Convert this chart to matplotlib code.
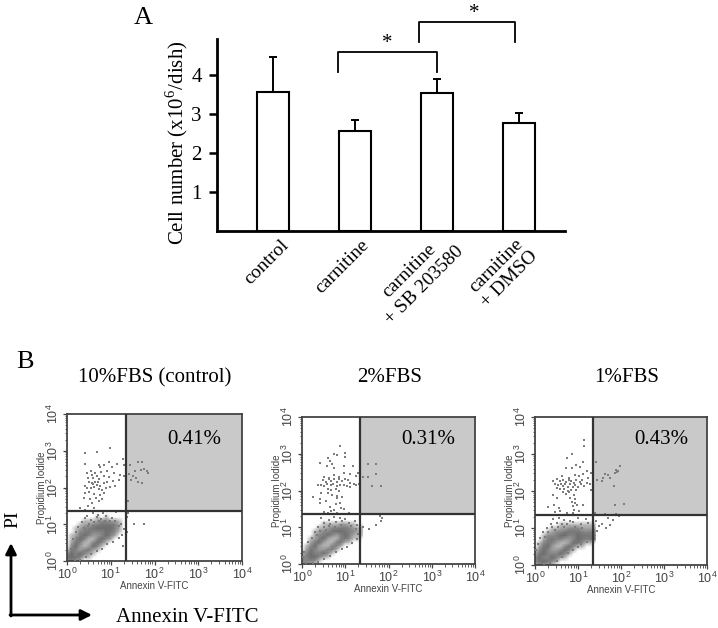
# libraries
import numpy as np
import matplotlib
matplotlib.use('Agg')
import matplotlib.pyplot as plt
from matplotlib.colors import LinearSegmentedColormap
from matplotlib.ticker import LogLocator, NullFormatter, FixedLocator

plt.rcParams['font.family'] = ['Liberation Serif', 'DejaVu Serif']
plt.rcParams['mathtext.fontset'] = 'custom'
plt.rcParams['mathtext.rm'] = 'Liberation Sans'
plt.rcParams['mathtext.default'] = 'rm'

W, H = 718, 628

# panel A
groups = ['control', 'carnitine', 'carnitine\n+ SB 203580', 'carnitine\n+ DMSO']
means = [3.57, 2.58, 3.55, 2.77]
err_up = [0.90, 0.27, 0.35, 0.26]
y_ticks = [1, 2, 3, 4]

# panel B titles and upper right percentages
titles = ['10%FBS (control)', '2%FBS', '1%FBS']
percents = ['0.41%', '0.31%', '0.43%']
gate_x = [1.35, 1.34, 1.35]
gate_y = [1.36, 1.36, 1.35]

# sparse events, in decades (log10 x, log10 y)
sparse_1 = [
    (0.98, 3.07), (0.68, 2.96), (0.41, 2.95), (0.85, 2.60), (0.95, 2.70), (0.42, 2.65), (0.72, 2.60),
    (0.75, 2.55), (0.55, 2.45), (0.65, 2.40), (0.78, 2.42), (0.92, 2.45), (1.02, 2.55), (1.15, 2.65),
    (1.28, 2.78), (1.30, 2.60), (0.45, 2.40), (0.58, 2.35), (0.48, 2.25), (0.60, 2.25), (0.68, 2.30),
    (0.72, 2.22), (0.85, 2.30), (0.95, 2.28), (1.08, 2.40), (1.20, 2.35), (1.30, 2.30), (0.50, 2.15),
    (0.56, 2.12), (0.60, 2.10), (0.64, 2.15), (0.68, 2.08), (0.70, 2.16), (0.75, 2.05), (0.84, 2.12),
    (0.92, 2.15), (1.05, 2.18), (1.18, 2.20), (0.40, 2.05), (0.46, 2.00), (0.55, 1.98), (0.62, 2.02),
    (0.72, 1.95), (0.80, 1.92), (0.88, 1.98), (0.98, 2.02), (1.10, 2.05), (0.42, 1.85), (0.50, 1.88),
    (0.62, 1.82), (0.75, 1.80), (0.85, 1.85), (0.38, 1.72), (0.52, 1.70), (0.66, 1.72), (0.72, 1.62),
    (0.80, 1.68), (0.58, 1.58), (0.30, 1.45), (0.48, 1.50), (0.62, 1.44), (0.40, 1.40), (0.60, 1.30),
    (0.70, 1.25), (0.45, 1.22), (0.82, 1.30), (1.12, 1.32),
    (1.45, 2.62), (1.62, 2.70), (1.72, 2.70), (1.68, 2.48), (1.55, 2.46), (1.75, 2.50), (1.82, 2.44),
    (1.86, 2.40), (1.50, 2.30), (1.42, 2.36), (1.58, 2.25), (1.46, 2.20), (1.62, 2.14), (1.72, 2.12),
    (1.40, 1.62), (1.36, 1.20), (1.52, 1.02), (1.40, 1.30), (1.75, 1.00), (1.36, 0.80),
    # around the dense cluster
    (0.42, 1.18), (0.55, 1.12), (0.68, 1.20), (0.78, 1.15), (0.90, 1.22), (1.02, 1.18), (0.35, 1.05),
    (0.50, 1.02), (0.62, 1.06), (0.74, 1.08), (0.86, 1.10), (0.98, 1.08), (1.10, 1.10), (1.24, 1.02),
    (0.25, 0.92), (0.38, 0.90), (0.48, 0.94), (0.60, 0.96), (0.72, 0.98), (1.18, 0.96), (1.30, 0.88),
    (0.20, 0.78), (0.30, 0.74), (0.42, 0.82), (1.26, 0.72), (0.14, 0.60), (0.22, 0.62), (1.18, 0.62),
    (1.05, 0.52), (0.92, 0.46), (0.80, 0.34), (0.68, 0.26), (0.55, 0.20), (0.44, 0.10), (0.08, 0.32),
    (0.04, 0.18), (0.30, 0.04), (0.18, 0.02), (1.28, 0.40),
]
sparse_2 = [
    (0.88, 3.22), (0.75, 2.98), (0.82, 2.97), (1.00, 3.02), (1.00, 2.92), (0.42, 2.75), (0.60, 2.88),
    (0.65, 2.80), (0.70, 2.72), (0.98, 2.68), (0.75, 2.62), (0.58, 2.68), (1.18, 2.68), (0.52, 2.38),
    (0.62, 2.34), (0.75, 2.42), (0.85, 2.36), (0.98, 2.48), (1.12, 2.45), (1.30, 2.48), (1.26, 2.40),
    (0.48, 2.28), (0.55, 2.22), (0.62, 2.30), (0.68, 2.25), (0.74, 2.30), (0.80, 2.22), (0.86, 2.30),
    (0.92, 2.26), (1.00, 2.32), (1.06, 2.28), (1.12, 2.20), (0.38, 2.15), (0.45, 2.16), (0.52, 2.12),
    (0.58, 2.18), (0.66, 2.15), (0.72, 2.18), (0.80, 2.12), (0.88, 2.14), (0.96, 2.16), (1.04, 2.12),
    (1.12, 2.10), (1.20, 2.18), (1.26, 2.16), (1.32, 2.18), (0.60, 2.05), (0.68, 2.02), (0.78, 2.05),
    (0.85, 1.98), (0.60, 1.92), (0.70, 1.88), (0.45, 1.92), (0.80, 1.84), (0.55, 1.72), (0.25, 1.82),
    (0.42, 1.78), (0.82, 1.80), (0.92, 1.82), (0.42, 1.66), (0.78, 1.62), (0.88, 1.65), (0.90, 1.52),
    (0.66, 1.45), (0.74, 1.48), (0.80, 1.40), (0.50, 1.42), (0.96, 1.50), (0.65, 1.55), (1.08, 1.40),
    (0.60, 1.38),
    (1.52, 2.72), (1.72, 2.72), (1.42, 2.38), (1.52, 2.38), (1.72, 2.45), (1.62, 2.12), (1.82, 2.12),
    (1.42, 1.02), (1.55, 0.95), (1.70, 1.05), (1.82, 1.18), (1.86, 1.24), (1.80, 1.30),
    # around the dense cluster
    (0.45, 1.25), (0.62, 1.20), (0.75, 1.28), (0.88, 1.24), (1.00, 1.22), (0.50, 1.12), (0.64, 1.10),
    (0.78, 1.14), (0.92, 1.16), (1.08, 1.12), (1.22, 1.18), (0.36, 1.02), (0.50, 1.00), (0.62, 1.04),
    (0.76, 1.02), (0.90, 1.06), (1.14, 1.04), (1.28, 1.06), (0.30, 0.86), (0.42, 0.90), (0.56, 0.92),
    (1.24, 0.94), (0.22, 0.72), (0.34, 0.78), (1.30, 0.82), (0.14, 0.60), (1.28, 0.68), (1.16, 0.58),
    (1.04, 0.46), (0.92, 0.42), (0.78, 0.32), (0.64, 0.22), (0.50, 0.14), (0.38, 0.06), (0.04, 0.34),
    (0.02, 0.18), (0.10, 0.04), (0.26, 0.02),
]
sparse_3 = [
    (1.15, 3.38), (1.13, 3.22), (0.85, 3.00), (0.75, 2.88), (1.35, 2.85), (0.72, 2.62), (0.85, 2.62),
    (0.95, 2.70), (1.05, 2.66), (1.12, 2.78), (1.20, 2.55), (1.30, 2.50), (0.62, 2.40), (0.80, 2.35),
    (0.92, 2.42), (1.02, 2.40), (1.12, 2.45), (1.24, 2.35), (0.42, 2.28), (0.50, 2.32), (0.58, 2.26),
    (0.66, 2.30), (0.72, 2.24), (0.78, 2.30), (0.84, 2.26), (0.90, 2.22), (0.96, 2.30), (1.04, 2.25),
    (1.10, 2.30), (1.22, 2.22), (0.46, 2.20), (0.54, 2.16), (0.60, 2.20), (0.64, 2.14), (0.70, 2.18),
    (0.76, 2.12), (0.82, 2.18), (0.88, 2.12), (0.94, 2.16), (1.00, 2.10), (1.06, 2.18), (1.14, 2.14),
    (1.28, 2.20), (0.50, 2.08), (0.58, 2.05), (0.68, 2.06), (0.76, 2.00), (0.84, 2.04), (0.96, 2.02),
    (1.30, 2.02), (0.66, 1.96), (0.72, 1.92), (0.78, 1.96), (0.90, 1.88), (0.42, 1.90), (0.52, 1.82),
    (0.82, 1.80), (0.92, 1.78), (0.86, 1.70), (0.94, 1.68), (0.88, 1.60), (0.98, 1.62), (1.12, 1.62),
    (0.44, 1.62), (0.30, 1.58), (0.55, 1.55), (0.90, 1.50), (1.02, 1.46), (0.58, 1.46), (0.46, 1.42),
    (0.75, 1.40), (0.88, 1.40),
    (1.42, 2.78), (1.45, 2.30), (1.55, 2.28), (1.62, 2.46), (1.70, 2.42), (1.75, 2.36), (1.92, 2.55),
    (1.88, 2.56), (1.86, 2.48), (1.98, 2.68), (1.90, 2.52), (1.84, 2.14), (1.58, 2.35), (2.08, 1.66),
    (1.85, 1.62), (1.40, 1.40), (1.62, 1.38), (1.88, 1.38),
    (1.42, 1.20), (1.48, 1.05), (1.56, 1.12), (1.65, 1.00), (1.75, 1.08), (1.82, 1.22), (1.70, 1.28),
    (1.95, 1.32), (1.38, 0.95), (1.45, 0.92), (1.36, 0.85),
    # around the dense cluster
    (0.42, 1.24), (0.55, 1.28), (0.68, 1.22), (0.82, 1.18), (1.00, 1.26), (1.18, 1.24), (0.38, 1.12),
    (0.50, 1.14), (0.62, 1.10), (0.74, 1.12), (0.88, 1.16), (1.06, 1.12), (1.24, 1.14), (0.28, 1.00),
    (0.40, 1.02), (0.54, 1.04), (0.68, 1.02), (0.92, 1.04), (1.10, 1.00), (0.18, 0.88), (0.30, 0.90),
    (0.46, 0.94), (0.12, 0.72), (0.24, 0.76), (0.08, 0.58), (1.20, 0.62), (1.08, 0.56), (1.00, 0.48),
    (0.88, 0.40), (0.76, 0.32), (0.62, 0.22), (0.50, 0.12), (0.36, 0.06), (0.02, 0.40), (0.20, 0.02),
]
sparse_events = [sparse_1, sparse_2, sparse_3]

# dense cluster as shade levels on a 0.1 decade grid, rows go up from log10 y = 0
cluster_1 = [
    [3, 4, 3, 1, 0, 0, 0, 0, 0, 0, 0, 0, 0, 0, 0],
    [5, 6, 5, 4, 1, 1, 0, 0, 0, 0, 0, 0, 0, 0, 0],
    [3, 6, 7, 6, 4, 2, 1, 0, 0, 0, 0, 0, 0, 0, 0],
    [1, 5, 7, 8, 7, 5, 2, 1, 0, 0, 0, 0, 0, 0, 0],
    [0, 3, 6, 8, 9, 8, 6, 3, 1, 0, 0, 0, 0, 0, 0],
    [0, 2, 5, 7, 9, 9, 7, 6, 3, 1, 0, 0, 0, 0, 0],
    [0, 1, 3, 6, 7, 9, 9, 7, 6, 3, 2, 0, 0, 0, 0],
    [0, 1, 2, 4, 6, 7, 8, 8, 7, 6, 4, 2, 0, 0, 0],
    [0, 0, 1, 3, 4, 5, 7, 7, 7, 6, 5, 3, 1, 0, 0],
    [0, 0, 1, 2, 3, 4, 5, 6, 6, 6, 6, 4, 2, 0, 0],
    [0, 0, 0, 1, 2, 2, 3, 4, 5, 5, 5, 4, 2, 0, 0],
    [0, 0, 0, 0, 1, 1, 1, 2, 3, 3, 2, 2, 1, 0, 0],
    [0, 0, 0, 0, 0, 0, 0, 1, 0, 1, 0, 0, 0, 0, 0],
    [0, 0, 0, 0, 0, 0, 0, 0, 0, 0, 0, 0, 0, 0, 0],
]
cluster_2 = [
    [2, 3, 2, 1, 0, 0, 0, 0, 0, 0, 0, 0, 0, 0, 0],
    [4, 3, 4, 3, 1, 0, 0, 0, 0, 0, 0, 0, 0, 0, 0],
    [3, 4, 6, 6, 4, 2, 1, 0, 0, 0, 0, 0, 0, 0, 0],
    [1, 3, 6, 7, 7, 6, 3, 1, 0, 0, 0, 0, 0, 0, 0],
    [0, 2, 5, 7, 8, 8, 7, 4, 2, 0, 0, 0, 0, 0, 0],
    [0, 1, 3, 6, 8, 9, 9, 7, 4, 2, 0, 0, 0, 0, 0],
    [0, 0, 2, 4, 6, 8, 9, 9, 7, 5, 2, 1, 0, 0, 0],
    [0, 0, 1, 2, 4, 6, 8, 9, 9, 7, 5, 3, 1, 1, 0],
    [0, 0, 0, 2, 3, 4, 6, 7, 8, 7, 6, 4, 2, 1, 1],
    [0, 0, 0, 1, 2, 3, 3, 5, 6, 6, 5, 4, 3, 2, 1],
    [0, 0, 0, 0, 1, 1, 2, 3, 3, 4, 4, 3, 2, 1, 1],
    [0, 0, 0, 0, 0, 1, 1, 1, 1, 2, 2, 1, 1, 0, 0],
    [0, 0, 0, 0, 0, 0, 0, 0, 0, 0, 0, 0, 0, 0, 0],
    [0, 0, 0, 0, 0, 0, 0, 0, 0, 0, 0, 0, 0, 0, 0],
]
cluster_3 = [
    [2, 3, 3, 2, 1, 0, 0, 0, 0, 0, 0, 0, 0, 0, 0],
    [3, 5, 6, 5, 3, 2, 0, 0, 0, 0, 0, 0, 0, 0, 0],
    [3, 6, 7, 7, 6, 4, 2, 1, 0, 0, 0, 0, 0, 0, 0],
    [2, 5, 6, 7, 7, 7, 6, 3, 1, 0, 0, 0, 0, 0, 0],
    [1, 3, 6, 7, 8, 8, 7, 6, 3, 1, 0, 0, 0, 0, 0],
    [0, 2, 5, 6, 8, 9, 9, 7, 6, 3, 1, 1, 0, 0, 0],
    [0, 1, 3, 5, 7, 8, 9, 9, 8, 6, 5, 3, 1, 1, 0],
    [0, 0, 2, 4, 5, 7, 7, 8, 8, 7, 6, 5, 4, 5, 6],
    [0, 0, 1, 3, 3, 4, 6, 6, 7, 7, 6, 5, 5, 5, 5],
    [0, 0, 0, 1, 2, 3, 3, 5, 5, 5, 5, 4, 3, 4, 3],
    [0, 0, 0, 0, 1, 1, 2, 2, 3, 3, 3, 2, 2, 2, 2],
    [0, 0, 0, 0, 0, 0, 1, 1, 1, 1, 1, 1, 1, 1, 1],
    [0, 0, 0, 0, 0, 0, 0, 0, 0, 0, 0, 0, 0, 0, 0],
    [0, 0, 0, 0, 0, 0, 0, 0, 0, 0, 0, 0, 0, 0, 0],
]
clusters = [cluster_1, cluster_2, cluster_3]


def px_axes(left, top, right, bottom):
    return fig.add_axes([left / W, 1 - bottom / H, (right - left) / W, (bottom - top) / H])


fig = plt.figure(figsize=(W / 100, H / 100), dpi=100)

# overlay in pixel coordinates, for the free text and the arrows
over = fig.add_axes([0, 0, 1, 1], zorder=5)
over.set_xlim(0, W)
over.set_ylim(H, 0)
over.axis('off')

# panel A
ax = px_axes(217, 39, 565, 231)
x_pos = np.arange(len(groups))
ax.bar(x_pos, means, width=0.39, color='white', edgecolor='black', linewidth=1.5, zorder=3)
ax.errorbar(x_pos, means, yerr=[np.zeros(len(means)), err_up], fmt='none', ecolor='black',
            elinewidth=1.4, capsize=3, capthick=1.4, zorder=2)
ax.set_xlim(-0.683, 3.56)
ax.set_ylim(0, 4.93)
ax.set_xticks([])
ax.set_yticks(y_ticks)
ax.tick_params(axis='y', length=6, width=1.8, labelsize=15, pad=5)
ax.spines['top'].set_visible(False)
ax.spines['right'].set_visible(False)
ax.spines['left'].set_linewidth(2)
ax.spines['bottom'].set_linewidth(2)
ax.patch.set_alpha(0)

# significance brackets
ax.plot([0.79, 0.79, 2.0, 2.0], [4.09, 4.6, 4.6, 4.09], color='black', lw=1.3, clip_on=False)
ax.plot([1.78, 1.78, 2.95, 2.95], [4.86, 5.37, 5.37, 4.86], color='black', lw=1.3, clip_on=False)
over.text(387, 43, '*', fontsize=15, ha='center', va='center')
over.text(474, 14, '*', fontsize=15, ha='center', va='center')

over.text(143, 18, 'A', fontsize=19, ha='center', va='center')
over.text(177, 143, 'Cell number (x10$^{\\mathregular{6}}$/dish)', fontsize=15,
          rotation=90, ha='center', va='center', family='Liberation Serif',
          math_fontfamily='stix')

label_anchor = [(280, 237), (360, 237), (440, 228), (516, 234)]
label_spacing = [1.0, 1.0, 1.25, 1.15]
for name, (lx, ly), sp in zip(groups, label_anchor, label_spacing):
    over.text(lx, ly, name, fontsize=14, rotation=45, ha='right', va='top',
              rotation_mode='anchor', multialignment='center', linespacing=sp)

# panel B
cmap = LinearSegmentedColormap.from_list('dots', [(0, '#ffffff'), (0.11, '#bdbdbd'), (0.33, '#8a8a8a'),
                                                  (0.67, '#6e6e6e'), (0.85, '#919191'), (1, '#b5b5b5')])
boxes = [(67, 414, 242, 561), (302, 417, 475, 564), (535, 417, 707, 565)]
title_x = [155, 390, 627]
percent_pos = [(194, 439), (428, 439), (661, 439)]

for i, box in enumerate(boxes):
    fa = px_axes(*box)
    fa.set_xscale('log')
    fa.set_yscale('log')
    fa.set_xlim(1, 1e4)
    fa.set_ylim(1, 1e4)

    # upper right gate
    fa.fill_between([10 ** gate_x[i], 1e4], 10 ** gate_y[i], 1e4, color='#c9c9c9', lw=0, zorder=1)

    dens = np.array(clusters[i], dtype=float)
    gx = 10 ** (np.arange(dens.shape[1]) * 0.1)
    gy = 10 ** (np.arange(dens.shape[0]) * 0.1)
    fa.pcolormesh(gx, gy, dens, cmap=cmap, vmin=0, vmax=9, shading='gouraud', zorder=2)

    pts = np.array(sparse_events[i])
    fa.scatter(10 ** pts[:, 0], 10 ** pts[:, 1], s=3, marker='s', color='#7c7c7c', linewidths=0, zorder=3)

    fa.axvline(10 ** gate_x[i], color='#333333', lw=1.6, zorder=4)
    fa.axhline(10 ** gate_y[i], color='#333333', lw=1.6, zorder=4)

    for sp in fa.spines.values():
        sp.set_linewidth(1.3)
        sp.set_color('#444444')

    for axis in (fa.xaxis, fa.yaxis):
        axis.set_major_locator(FixedLocator([1, 10, 100, 1000, 10000]))
        axis.set_minor_locator(LogLocator(base=10, subs=np.arange(2, 10), numticks=6))
        axis.set_minor_formatter(NullFormatter())
    fa.set_xticks([1, 10, 100, 1000, 10000])
    fa.set_xticklabels(['$10^{0}$', '$10^{1}$', '$10^{2}$', '$10^{3}$', '$10^{4}$'],
                       family='Liberation Sans', color='#444444')
    fa.set_yticks([1, 10, 100, 1000, 10000])
    fa.set_yticklabels(['$10^{0}$', '$10^{1}$', '$10^{2}$', '$10^{3}$', '$10^{4}$'],
                       family='Liberation Sans', color='#444444', rotation=90, va='center')
    fa.tick_params(which='major', length=3, width=0.9, labelsize=9, pad=1.5, color='#444444')
    fa.tick_params(which='minor', length=1.8, width=0.6, color='#444444')
    fa.set_xlabel('Annexin V-FITC', fontsize=7, family='Liberation Sans', color='#444444', labelpad=-1)
    fa.set_ylabel('Propidium Iodide', fontsize=7, family='Liberation Sans', color='#444444', labelpad=-1)

    over.text(title_x[i], 378, titles[i], fontsize=15, ha='center', va='center')
    over.text(percent_pos[i][0], percent_pos[i][1], percents[i], fontsize=15, ha='center', va='center')

over.text(25, 362, 'B', fontsize=19, ha='center', va='center')
over.text(13, 519, 'PI', fontsize=14, rotation=90, ha='center', va='center')
over.text(187, 617, 'Annexin V-FITC', fontsize=15, ha='center', va='center')

# PI / Annexin arrows
arrow = dict(arrowstyle='-|>', color='black', lw=2, mutation_scale=16, shrinkA=0, shrinkB=0)
over.annotate('', xy=(11, 543), xytext=(11, 616), arrowprops=arrow)
over.annotate('', xy=(92, 615), xytext=(10, 615), arrowprops=arrow)

fig.savefig('out.png', dpi=100)
